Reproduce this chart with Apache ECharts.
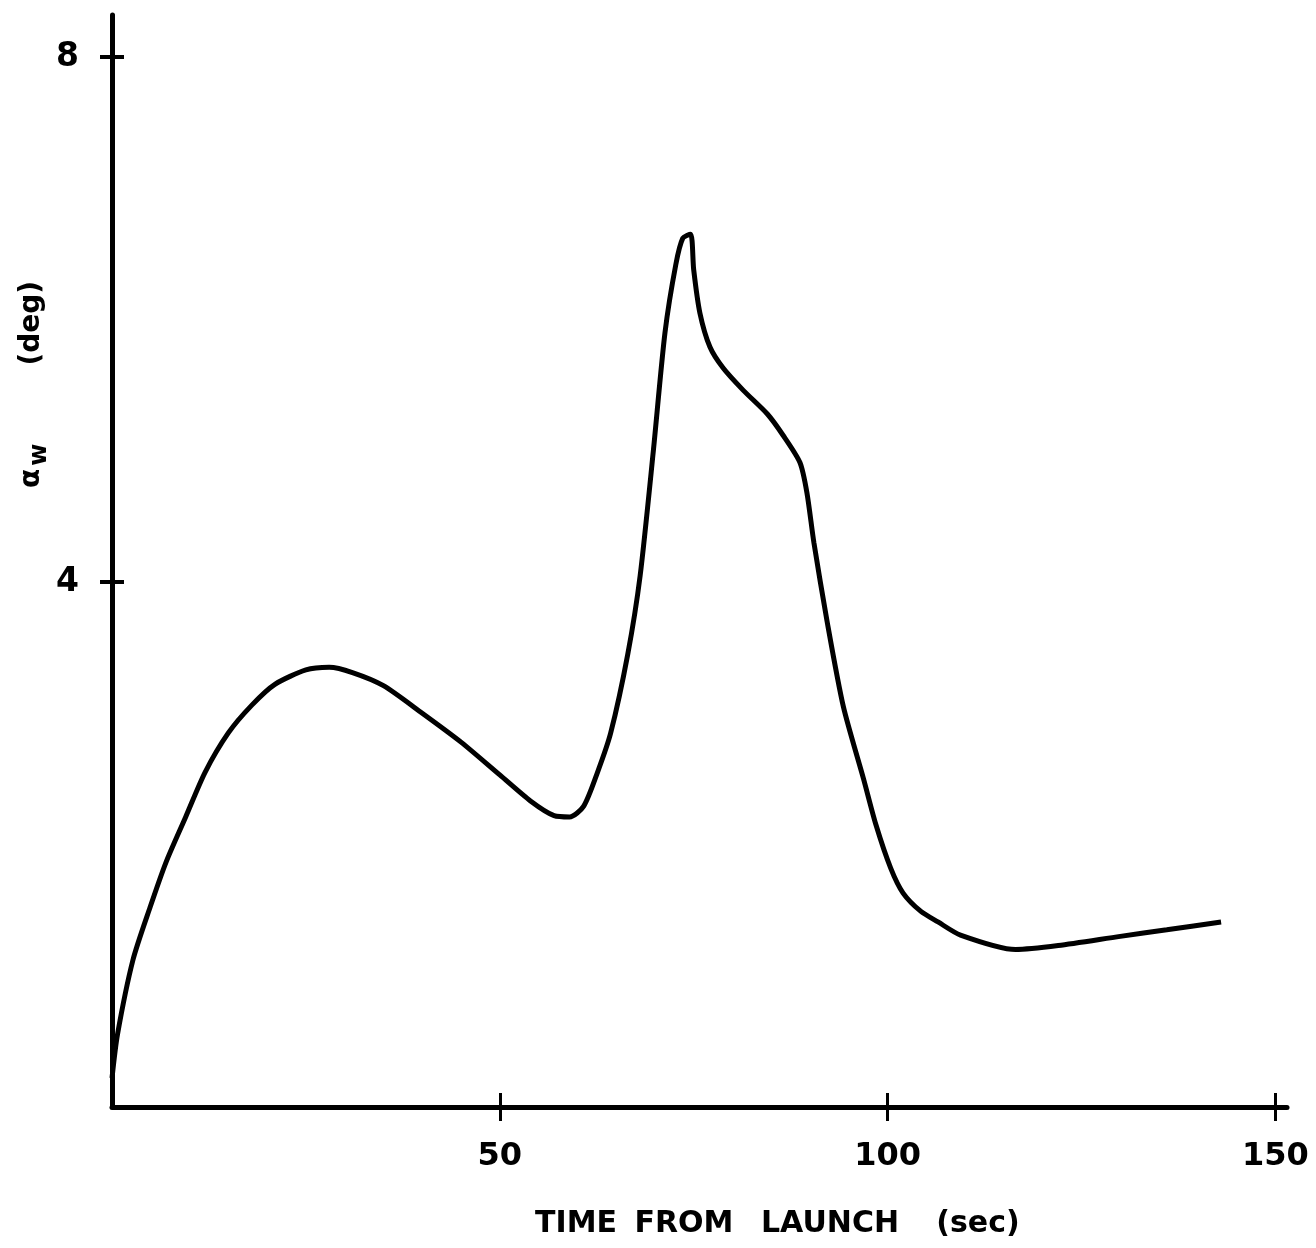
<!DOCTYPE html>
<html>
<head>
<meta charset="utf-8">
<script src="https://cdn.jsdelivr.net/npm/echarts@6/dist/echarts.min.js"></script>
<style>
  html, body { margin: 0; padding: 0; background: #fff; }
  #chart { width: 1316px; height: 1248px; }
</style>
</head>
<body>
<div id="chart"></div>
<script>
// time from launch (sec)
var timeSec = [0, 0.7, 2.7, 4.9, 7, 9.5, 12, 15, 18, 21, 25, 28, 31, 35, 40, 45, 50, 54, 57, 59,
  60.8, 62.6, 64.3, 66.5, 68.1, 69.8, 71.3, 72.7, 73.6, 74.6, 75.0, 75.8, 77.1, 78.8, 81.4, 84.5, 86.5,
  88.7, 89.6, 90.5, 92.2, 94.3, 96.9, 98.5, 100.4, 102, 104.3, 106.5, 109.4, 116.5, 122, 130, 136, 143];
// alpha_w (deg)
var alphaW = [0.22, 0.55, 1.12, 1.52, 1.87, 2.21, 2.55, 2.85, 3.06, 3.22, 3.33, 3.35, 3.31, 3.21, 3.0, 2.78, 2.53, 2.33, 2.22, 2.21,
  2.29, 2.55, 2.85, 3.45, 4.05, 5.0, 5.9, 6.42, 6.62, 6.65, 6.38, 6.05, 5.79, 5.63, 5.46, 5.28, 5.12,
  4.91, 4.68, 4.3, 3.7, 3.05, 2.5, 2.15, 1.82, 1.63, 1.49, 1.41, 1.31, 1.2, 1.23, 1.3, 1.35, 1.41];
var xTicks = [50, 100, 150];
var yTicks = [4, 8];
// x axis title, one word at a time (the original is widely spaced)
var xTitleWords = ['TIME', 'FROM', 'LAUNCH', '(sec)'];
var xTitleCenters = [576, 684, 830, 978];

var points = timeSec.map(function (t, i) { return [t, alphaW[i]]; });

var labelFont = { color: '#000', fontFamily: 'DejaVu Sans', fontWeight: 'bold' };

var titleTexts = xTitleWords.map(function (w, i) {
  return {
    type: 'text',
    x: xTitleCenters[i], y: 1224,
    style: {
      text: w,
      fill: '#000',
      font: 'bold 30px "DejaVu Sans"',
      textAlign: 'center',
      textVerticalAlign: 'middle'
    }
  };
});

var chart = echarts.init(document.getElementById('chart'));
chart.setOption({
  animation: false,
  backgroundColor: '#fff',
  grid: { left: 112, top: 15, width: 1175, height: 1092 },
  xAxis: [{
    type: 'value', min: 0, max: 151.5,
    axisLine: { lineStyle: { color: '#000', width: 5 } },
    axisTick: { customValues: xTicks, length: 14, lineStyle: { color: '#000', width: 3 } },
    axisLabel: Object.assign({ customValues: xTicks, fontSize: 32, margin: 34 }, labelFont),
    splitLine: { show: false }
  }, {
    type: 'value', min: 0, max: 151.5, position: 'bottom',
    axisLine: { show: false },
    axisTick: { inside: true, customValues: xTicks, length: 14, lineStyle: { color: '#000', width: 3 } },
    axisLabel: { show: false },
    splitLine: { show: false }
  }],
  yAxis: [{
    type: 'value', min: 0, max: 8.32,
    axisLine: { lineStyle: { color: '#000', width: 5 } },
    axisTick: { customValues: yTicks, length: 12, lineStyle: { color: '#000', width: 4 } },
    axisLabel: Object.assign({ customValues: yTicks, fontSize: 33, margin: 33 }, labelFont),
    splitLine: { show: false }
  }, {
    type: 'value', min: 0, max: 8.32, position: 'left',
    axisLine: { show: false },
    axisTick: { inside: true, customValues: yTicks, length: 12, lineStyle: { color: '#000', width: 4 } },
    axisLabel: { show: false },
    splitLine: { show: false }
  }],
  series: [{
    type: 'line',
    data: points,
    smooth: 0.25,
    symbol: 'none',
    lineStyle: { color: '#000', width: 5 }
  }],
  graphic: titleTexts.concat([{
    type: 'text',
    x: 12, y: 488,
    rotation: Math.PI / 2,
    style: {
      text: '{a|α}{s|w}{d|(deg)}',
      fill: '#000',
      rich: {
        a: { font: 'bold 28px "DejaVu Sans"', fill: '#000' },
        s: { font: 'bold 24px "DejaVu Sans"', fill: '#000', padding: [16, 0, 0, 3] },
        d: { font: 'bold 28px "DejaVu Sans"', fill: '#000', padding: [0, 0, 0, 78] }
      }
    }
  }])
});
</script>
</body>
</html>
